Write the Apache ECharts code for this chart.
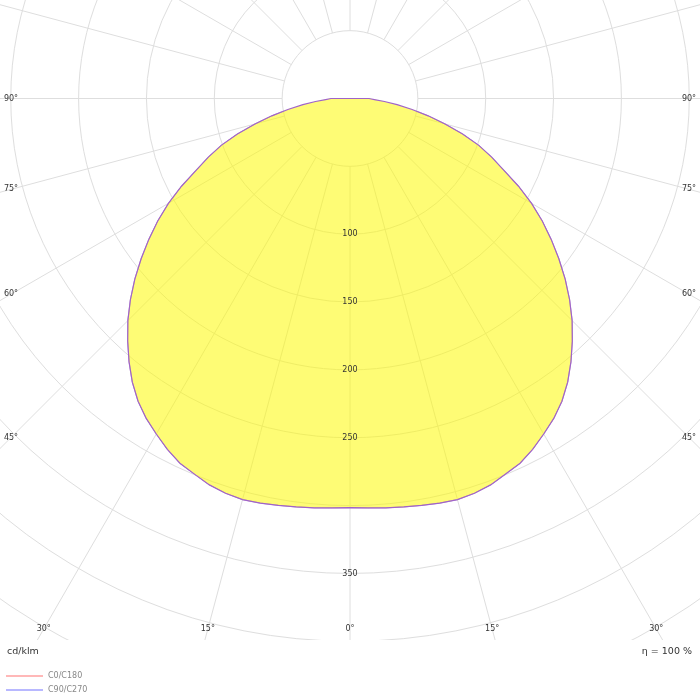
<!DOCTYPE html>
<html><head><meta charset="utf-8">
<script src="https://cdn.jsdelivr.net/npm/echarts@6/dist/echarts.min.js"></script>
<style>html,body{margin:0;padding:0;background:#fff}#c{width:700px;height:700px}</style>
</head><body><div id="c"></div>
<script>
// ---- data ----
const gammaAngles = [0,2.5,5,7.5,10,12.5,15,17.5,20,22.5,25,27.5,30,32.5,35,37.5,40,42.5,45,47.5,50,52.5,55,57.5,60,62.5,65,67.5,70,72.5,75,77.5,80,82.5,85,87.5,90];
const intensityC0C180 = [301.5,302,302.8,303.6,304.4,305.4,306,305,303,299.6,296.6,291.5,285.5,279.5,272.3,263.5,253.3,242.5,231.5,219.5,207,194,181,168,154.5,140,125,113,101,87,72.5,59,46.5,35,25.5,18,14];
const intensityC90C270 = [301.5,302,302.8,303.6,304.4,305.4,306,305,303,299.6,296.6,291.5,285.5,279.5,272.3,263.5,253.3,242.5,231.5,219.5,207,194,181,168,154.5,140,125,113,101,87,72.5,59,46.5,35,25.5,18,14];
const radiusLabelValues = [100,150,200,250,350];
const angleLabelValues = [0,15,30,45,60,75,90];
const seriesNames = ['C0/C180','C90/C270'];
const unitText = 'cd/klm';
const efficiencyText = 'η = 100 %';

// ---- layout ----
const RMIN = 50, RMAX = 500, PX = 1.357;
const CX = 350, CY = 98.5;
const EDGE_L = 11, EDGE_R = 689, EDGE_B = 629, CLIP_B = 640;
const FONT = '"DejaVu Sans", Verdana, sans-serif';

function curve(vals){
  const pts = [];
  for (let i = gammaAngles.length - 1; i > 0; i--) pts.push([vals[i], 360 - gammaAngles[i]]);
  for (let i = 0; i < gammaAngles.length; i++) pts.push([vals[i], gammaAngles[i]]);
  return pts;
}

const chart = echarts.init(document.getElementById('c'), null, {renderer:'canvas'});
const option = {
  animation: false,
  backgroundColor: '#fff',
  polar: {center: [CX, CY], radius: [RMIN * PX, RMAX * PX]},
  angleAxis: {
    type: 'value', min: 0, max: 360, interval: 15, startAngle: 270, clockwise: false,
    axisLine: {show: false}, axisTick: {show: false}, axisLabel: {show: false},
    splitLine: {show: true, lineStyle: {color: '#dedede', width: 1}}
  },
  radiusAxis: {
    type: 'value', min: RMIN, max: RMAX, interval: 50,
    axisLine: {show: false}, axisTick: {show: false}, axisLabel: {show: false},
    splitLine: {show: true, lineStyle: {color: '#dedede', width: 1}}
  },
  legend: {
    orient: 'vertical', left: 6, top: 671, width: 120, height: 28, padding: 0,
    itemWidth: 37, itemHeight: 2, itemGap: 4,
    icon: 'rect', selectedMode: false, z: 100, data: seriesNames,
    textStyle: {fontSize: 8, color: '#888', fontFamily: FONT, lineHeight: 10}
  },
  series: [
    {type: 'line', name: seriesNames[0], coordinateSystem: 'polar', data: curve(intensityC0C180),
     symbol: 'none', showSymbol: false, clip: false, color: '#ffb8b8', lineStyle: {width: 1}, z: 2},
    {type: 'line', name: seriesNames[1], coordinateSystem: 'polar', data: curve(intensityC90C270),
     symbol: 'none', showSymbol: false, clip: false, color: '#b8b8ff', lineStyle: {width: 1}, z: 2},
    {type: 'custom', coordinateSystem: 'polar', data: [[0, 0]], z: 3, silent: true, clip: false,
     renderItem: function(params, api){
       const pts = curve(intensityC0C180).map(p => api.coord(p));
       return {type: 'polygon', shape: {points: pts},
               style: {fill: 'rgba(253,250,0,0.54)', stroke: '#a064c8', lineWidth: 1.2}};
     }}
  ]
};
chart.setOption(option);

function toPx(r, a){ return chart.convertToPixel({polarIndex: 0}, [r, a]); }
function edgePoint(v){
  const c = toPx(0, v), p = toPx(RMAX, v);
  const dx = p[0] - c[0], dy = p[1] - c[1];
  let t = Infinity;
  if (dx < -1e-6) t = Math.min(t, (EDGE_L - c[0]) / dx);
  if (dx > 1e-6) t = Math.min(t, (EDGE_R - c[0]) / dx);
  if (dy > 1e-6) t = Math.min(t, (EDGE_B - c[1]) / dy);
  return [c[0] + dx * t, c[1] + dy * t];
}

const g = [];
g.push({type: 'rect', shape: {x: 0, y: CLIP_B, width: 700, height: 700 - CLIP_B}, style: {fill: '#fff'}, z: 50, silent: true});
const seen = new Set();
angleLabelValues.forEach(a => {
  [a, (360 - a) % 360].forEach(v => {
    if (seen.has(v)) return; seen.add(v);
    const p = edgePoint(v);
    g.push({type: 'text', x: p[0], y: p[1], z: 60, silent: true,
      style: {text: a + '°', fill: '#333', font: '8px ' + FONT, align: 'center', verticalAlign: 'middle'}});
  });
});
radiusLabelValues.forEach(r => {
  const p = toPx(r, 0);
  g.push({type: 'text', x: p[0], y: p[1], z: 60, silent: true,
    style: {text: String(r), fill: '#333', font: '8px ' + FONT, align: 'center', verticalAlign: 'middle'}});
});
g.push({type: 'text', x: 7, y: 652, z: 60, silent: true,
  style: {text: unitText, fill: '#333', font: '9.5px ' + FONT, align: 'left', verticalAlign: 'middle'}});
g.push({type: 'text', x: 692, y: 652, z: 60, silent: true,
  style: {text: efficiencyText, fill: '#333', font: '9.5px ' + FONT, align: 'right', verticalAlign: 'middle'}});
chart.setOption({graphic: g});
</script>
</body></html>
